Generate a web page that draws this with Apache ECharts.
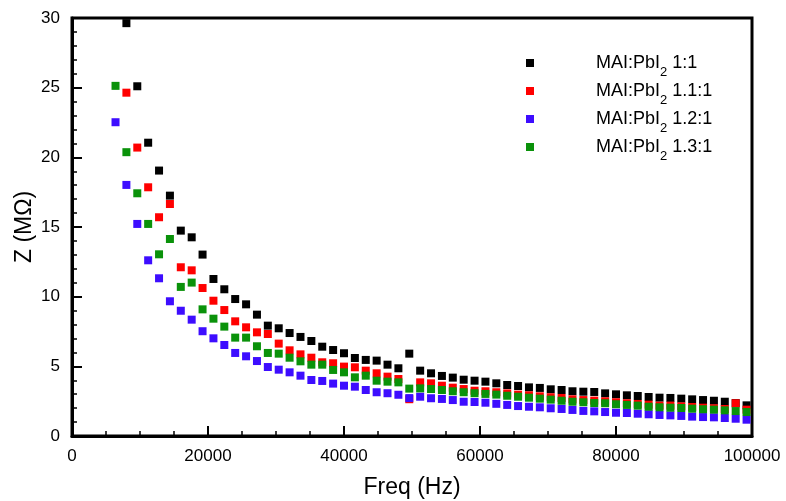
<!DOCTYPE html>
<html>
<head>
<meta charset="utf-8">
<script src="https://cdn.jsdelivr.net/npm/echarts@6/dist/echarts.min.js"></script>
<style>
  html, body { margin: 0; padding: 0; background: #fff; }
  #chart { width: 786px; height: 501px; }
</style>
</head>
<body>
<div id="chart"></div>
<script>
// Measurement frequencies (Hz)
const freq = [
  6400, 8000, 9600, 11200, 12800, 14400, 16000, 17600, 19200, 20800,
  22400, 24000, 25600, 27200, 28800, 30400, 32000, 33600, 35200, 36800,
  38400, 40000, 41600, 43200, 44800, 46400, 48000, 49600, 51200, 52800,
  54400, 56000, 57600, 59200, 60800, 62400, 64000, 65600, 67200, 68800,
  70400, 72000, 73600, 75200, 76800, 78400, 80000, 81600, 83200, 84800,
  86400, 88000, 89600, 91200, 92800, 94400, 96000, 97600, 99200
];

// Impedance |Z| in MΩ, one entry per frequency (null = no point)
const z11 = [
  null, 29.63, 25.10, 21.05, 19.05, 17.25, 14.74, 14.26, 13.02, 11.27,
  10.53, 9.83, 9.45, 8.71, 7.92, 7.73, 7.39, 7.11, 6.82, 6.41,
  6.17, 5.94, 5.60, 5.46, 5.41, 5.12, 4.86, 5.91, 4.69, 4.50,
  4.31, 4.19, 4.04, 3.97, 3.90, 3.78, 3.66, 3.59, 3.49, 3.45,
  3.35, 3.30, 3.21, 3.18, 3.16, 3.06, 2.99, 2.92, 2.87, 2.80,
  2.75, 2.73, 2.68, 2.63, 2.58, 2.53, 2.46, 2.36, 2.20
];
const z111 = [
  null, 24.64, 20.70, 17.85, 15.70, 16.65, 12.11, 11.89, 10.62, 9.71,
  9.04, 8.23, 7.80, 7.44, 7.32, 6.63, 6.15, 5.86, 5.62, 5.29,
  5.22, 4.98, 4.93, 4.69, 4.50, 4.26, 4.09, 2.64, 3.85, 3.78,
  3.61, 3.47, 3.37, 3.25, 3.21, 3.14, 3.06, 2.97, 2.92, 2.85,
  2.78, 2.73, 2.63, 2.58, 2.54, 2.49, 2.42, 2.35, 2.30, 2.25,
  2.18, 2.18, 2.13, 2.08, 2.03, 1.99, 1.94, 2.35, 1.89
];
const z121 = [
  22.52, 18.02, 15.22, 12.61, 11.32, 9.67, 8.99, 8.35, 7.52, 7.01,
  6.53, 5.96, 5.72, 5.38, 4.95, 4.76, 4.57, 4.33, 4.02, 3.95,
  3.76, 3.61, 3.54, 3.30, 3.14, 3.07, 2.96, 2.72, 2.82, 2.71,
  2.66, 2.58, 2.46, 2.44, 2.39, 2.31, 2.23, 2.15, 2.10, 2.06,
  1.99, 1.94, 1.87, 1.80, 1.77, 1.72, 1.67, 1.65, 1.60, 1.56,
  1.51, 1.48, 1.44, 1.39, 1.36, 1.34, 1.29, 1.24, 1.17
];
const z131 = [
  25.13, 20.37, 17.42, 15.22, 13.04, 14.14, 10.70, 11.01, 9.09, 8.42,
  7.85, 7.06, 7.06, 6.44, 5.96, 5.91, 5.62, 5.36, 5.12, 5.12,
  4.74, 4.57, 4.21, 4.33, 3.97, 3.90, 3.85, 3.40, 3.42, 3.37,
  3.30, 3.21, 3.14, 3.07, 3.02, 2.97, 2.89, 2.82, 2.75, 2.68,
  2.61, 2.53, 2.46, 2.42, 2.37, 2.35, 2.28, 2.23, 2.18, 2.10,
  2.06, 2.03, 2.01, 1.96, 1.92, 1.89, 1.84, 1.79, 1.72
];

const seriesNames = ['MAI:PbI2 1:1', 'MAI:PbI2 1.1:1', 'MAI:PbI2 1.2:1', 'MAI:PbI2 1.3:1'];
const seriesColors = ['#000000', '#ff0000', '#3d0dff', '#0a920a'];
const seriesValues = [z11, z111, z121, z131];

const FONT = "'Liberation Sans', Arial, Helvetica, sans-serif";

function pairs(values) {
  const out = [];
  values.forEach((v, i) => { if (v !== null) out.push([freq[i], v]); });
  return out;
}

const chart = echarts.init(document.getElementById('chart'), null, { renderer: 'canvas' });

function axisParts(minorSplit) {
  return {
    axisLine: { show: true, onZero: false, lineStyle: { color: '#000', width: 3, opacity: 1 } },
    axisTick: { show: true, inside: true, length: 10, lineStyle: { color: '#000', width: 2, opacity: 1 } },
    minorTick: { show: true, splitNumber: minorSplit, length: 5, lineStyle: { color: '#000', width: 1.5, opacity: 1 } },
    splitLine: { show: false },
    minorSplitLine: { show: false },
    axisLabel: { color: '#000', fontFamily: FONT, fontSize: 17, margin: 12, formatter: v => String(v) },
    nameTextStyle: { color: '#000', fontFamily: FONT, fontSize: 23 },
    nameMoveOverlap: false
  };
}

chart.setOption({
  animation: false,
  backgroundColor: '#fff',
  grid: {
    left: 72, right: 34, top: 18, bottom: 65,
    containLabel: false,
    outerBoundsMode: 'none',
    show: true, borderColor: '#000', borderWidth: 3, backgroundColor: 'transparent'
  },
  legend: {
    orient: 'vertical',
    left: 521, top: 49,
    itemWidth: 8, itemHeight: 8, itemGap: 3,
    icon: 'rect',
    data: seriesNames,
    formatter: function (name) {
      const rest = name.replace('MAI:PbI2', '');
      return '{t|MAI:PbI}{s|2}{t|' + rest + '}';
    },
    textStyle: {
      color: '#000',
      padding: [0, 0, 0, 57],
      rich: {
        t: { fontFamily: FONT, fontSize: 18, color: '#000', verticalAlign: 'middle' },
        s: { fontFamily: FONT, fontSize: 13, color: '#000', verticalAlign: 'bottom', padding: [0, 0, -7, 0] }
      }
    }
  },
  xAxis: Object.assign(axisParts(4), {
    type: 'value',
    min: 0, max: 100000, interval: 20000,
    name: 'Freq (Hz)',
    nameLocation: 'middle',
    nameGap: 40
  }),
  yAxis: Object.assign(axisParts(5), {
    type: 'value',
    min: 0, max: 30, interval: 5,
    name: 'Z (MΩ)',
    nameLocation: 'middle',
    nameGap: 36
  }),
  series: seriesValues.map((vals, i) => ({
    name: seriesNames[i],
    type: 'scatter',
    symbol: 'rect',
    symbolSize: 8,
    itemStyle: { color: seriesColors[i], opacity: 1 },
    emphasis: { disabled: true },
    data: pairs(vals)
  }))
});
</script>
</body>
</html>
